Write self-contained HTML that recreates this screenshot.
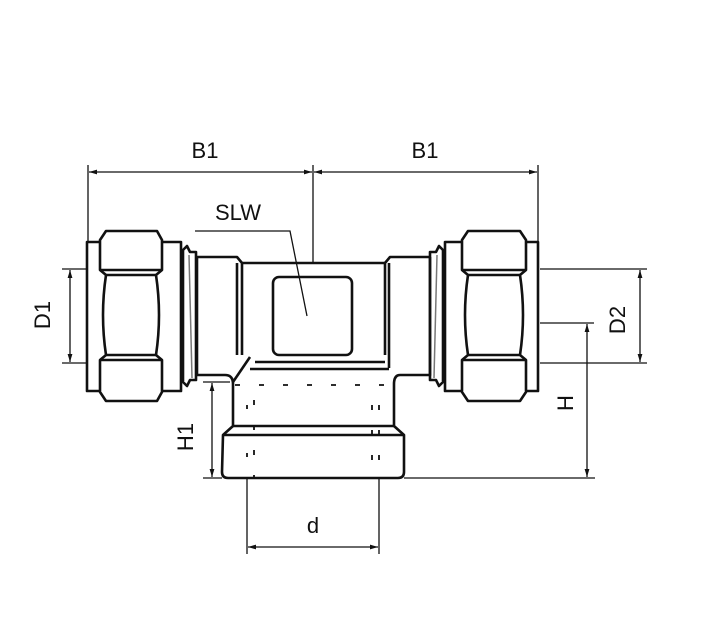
<!DOCTYPE html>
<html><head><meta charset="utf-8"><style>
html,body{margin:0;padding:0;background:#fff;}
svg{display:block;}
text{font-family:"Liberation Sans",sans-serif;font-size:22px;fill:#111;}
</style></head><body>
<svg width="709" height="633" viewBox="0 0 709 633" xmlns="http://www.w3.org/2000/svg">
<defs>
<marker id="a" viewBox="0 0 10 10" refX="10" refY="5" markerWidth="10" markerHeight="8" orient="auto-start-reverse" markerUnits="userSpaceOnUse"><path d="M0,2 L10,5 L0,8 z" fill="#111"/></marker>
</defs>
<g fill="none" stroke="#111" stroke-width="1.3">
<line x1="88" y1="165" x2="88" y2="242"/>
<line x1="313" y1="165" x2="313" y2="263"/>
<line x1="538" y1="165" x2="538" y2="242"/>
<line x1="89" y1="172" x2="312" y2="172" marker-start="url(#a)" marker-end="url(#a)"/>
<line x1="314" y1="172" x2="537" y2="172" marker-start="url(#a)" marker-end="url(#a)"/>
<polyline points="195,231 290,231 307,316"/>
<line x1="62" y1="269" x2="87" y2="269"/>
<line x1="62" y1="363" x2="87" y2="363"/>
<line x1="70" y1="270" x2="70" y2="362" marker-start="url(#a)" marker-end="url(#a)"/>
<line x1="540" y1="269" x2="647" y2="269"/>
<line x1="540" y1="363" x2="647" y2="363"/>
<line x1="640" y1="270" x2="640" y2="362" marker-start="url(#a)" marker-end="url(#a)"/>
<line x1="540" y1="323" x2="594" y2="323"/>
<line x1="587" y1="324" x2="587" y2="477" marker-start="url(#a)" marker-end="url(#a)"/>
<line x1="404" y1="478" x2="595" y2="478"/>
<line x1="203" y1="382" x2="230" y2="382"/>
<line x1="203" y1="478" x2="222" y2="478"/>
<line x1="212" y1="383" x2="212" y2="477" marker-start="url(#a)" marker-end="url(#a)"/>
<line x1="247" y1="479" x2="247" y2="554"/>
<line x1="379" y1="479" x2="379" y2="554"/>
<line x1="248" y1="547" x2="378" y2="547" marker-start="url(#a)" marker-end="url(#a)"/>
</g>
<g fill="none" stroke="#111" stroke-width="2.6" stroke-linejoin="round">
<rect x="87" y="242" width="94" height="149"/>
<path d="M106,231 L157,231 L162,240 L162,270 L156,275 Q162,315 156,355 L162,360 L162,392 L157,401 L106,401 L100,392 L100,360 L106,355 Q100,315 106,275 L100,270 L100,240 Z" fill="#fff"/>
<line x1="100" y1="270" x2="162" y2="270"/><line x1="106" y1="275" x2="156" y2="275"/>
<line x1="106" y1="355" x2="156" y2="355"/><line x1="100" y1="360" x2="162" y2="360"/>
<path d="M183,250 L187,246 L190,252 L196,252 L196,380 L190,380 L187,386 L183,382 Z"/>
<line x1="189" y1="255" x2="192" y2="378" stroke-width="1.5" stroke="#777"/>
<path d="M197,257 L237,257 L242,263 L242,355 M197,257 L197,375 L225,375"/>
<line x1="237" y1="263" x2="237" y2="355"/>
<rect x="445" y="242" width="93" height="149"/>
<path d="M468,231 L520,231 L526,240 L526,270 L520,275 Q526,315 520,355 L526,360 L526,392 L520,401 L468,401 L462,392 L462,360 L468,355 Q462,315 468,275 L462,270 L462,240 Z" fill="#fff"/>
<line x1="462" y1="270" x2="526" y2="270"/><line x1="468" y1="275" x2="520" y2="275"/>
<line x1="468" y1="355" x2="520" y2="355"/><line x1="462" y1="360" x2="526" y2="360"/>
<path d="M443,250 L439,246 L436,252 L430,252 L430,380 L436,380 L439,386 L443,382 Z"/>
<line x1="437" y1="255" x2="434" y2="378" stroke-width="1.5" stroke="#777"/>
<path d="M430,257 L390,257 L385,263 L385,355 M430,257 L430,375 L400,375"/>
<line x1="389" y1="263" x2="389" y2="368"/>
<line x1="242" y1="263" x2="385" y2="263"/>
<rect x="273" y="277" width="79" height="78" rx="6"/>
<line x1="255" y1="362" x2="385" y2="362"/>
<line x1="250" y1="369" x2="389" y2="369"/>
<line x1="233" y1="382" x2="250" y2="357"/>
<path d="M225,375 Q233,375 233,384 L233,426 L223,435 L222,472 Q222,478 228,478 L398,478 Q404,478 404,472 L404,435 L394,426 L394,384 Q394,375 400,375"/>
<line x1="233" y1="426" x2="394" y2="426"/>
<line x1="223" y1="435" x2="404" y2="435"/>
</g>
<g stroke="#111" stroke-width="1.8">
<line x1="235" y1="385" x2="390" y2="385" stroke-dasharray="5,19"/>
<line x1="254" y1="400" x2="254" y2="478" stroke-dasharray="5,20"/>
<line x1="247" y1="405" x2="247" y2="470" stroke-dasharray="4,44"/>
<line x1="372" y1="405" x2="372" y2="478" stroke-dasharray="5,20"/>
<line x1="379" y1="405" x2="379" y2="478" stroke-dasharray="5,20"/>
</g>
<text x="205" y="158" text-anchor="middle">B1</text>
<text x="425" y="158" text-anchor="middle">B1</text>
<text x="238" y="220" text-anchor="middle">SLW</text>
<text x="313" y="533" text-anchor="middle">d</text>
<text transform="translate(50,315) rotate(-90)" text-anchor="middle">D1</text>
<text transform="translate(625,320) rotate(-90)" text-anchor="middle">D2</text>
<text transform="translate(573,403) rotate(-90)" text-anchor="middle">H</text>
<text transform="translate(193,437) rotate(-90)" text-anchor="middle">H1</text>
</svg>
</body></html>
